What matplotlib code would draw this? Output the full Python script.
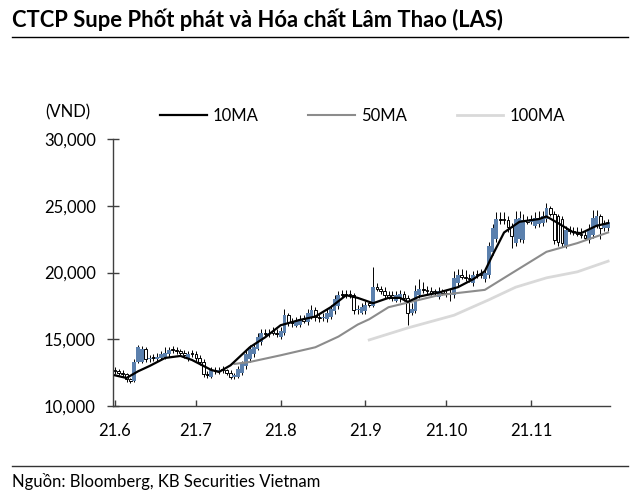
import matplotlib
matplotlib.use("Agg")
import matplotlib.pyplot as plt
from matplotlib.lines import Line2D

plt.rcParams['font.family'] = ['Lato', 'DejaVu Sans']

# daily prices, LAS (VND), trading day index 0 = early June 2021
closes = [
    12600, 12500, 12400, 12000, 11900, 13300, 14400, 14300, 13500, 13600,
    13600, 13700, 13900, 14000, 14200, 14200, 14100, 14000, 13800, 13900,
    13900, 13600, 13300, 12400, 12300, 12700, 12600, 12700, 12700, 12500,
    12200, 12300, 12800, 13200, 13900, 14300, 14400, 15200, 15500, 15400,
    15500, 15500, 15400, 15600, 16800, 16300, 16200, 16400, 16500, 16400,
    17000, 17200, 16700, 16600, 16700, 17000, 17300, 18000, 18300, 18300,
    18300, 18300, 17200, 17300, 17400, 17600, 17600, 18900, 18800, 18600,
    18300, 18200, 18200, 18300, 18400, 18100, 17000, 17300, 18600, 18800,
    18700, 18600, 18500, 18500, 18600, 18500, 18400, 18500, 19600, 19800,
    19700, 19600, 19500, 19800, 19800, 19800, 20000, 22000, 23300, 24000,
    23900, 23900, 23400, 22700, 24000, 24100, 23900, 23800, 24000, 24100,
    24100, 24200, 24800, 24400, 22400, 22300, 22200, 23200, 23100, 23000,
    22900, 22800, 22600, 23200, 24100, 24200, 23300, 23600, 23800]
opens = [
    12700, 12600, 12500, 12400, 12000, 11900, 13300, 13300, 14300, 13500,
    13700, 13500, 13600, 13700, 13900, 14300, 14200, 14100, 14000, 13600,
    14000, 13900, 13600, 13300, 12400, 12200, 12700, 12600, 12800, 12700,
    12500, 12200, 12200, 12500, 13000, 13500, 13900, 14300, 14800, 15500,
    15400, 15600, 15500, 15200, 15500, 16800, 16300, 16000, 16100, 16500,
    16300, 16700, 17200, 16700, 16600, 16500, 16700, 17100, 17500, 18400,
    18400, 18400, 18300, 17200, 17000, 17100, 17700, 17500, 18900, 18800,
    18600, 18300, 18300, 17900, 18000, 18400, 18100, 17000, 17100, 18300,
    18800, 18700, 18600, 18600, 18200, 18600, 18500, 18400, 18300, 19200,
    19800, 19700, 19600, 19200, 19900, 19900, 19500, 19800, 21500, 22500,
    24000, 24000, 23900, 23400, 22200, 22500, 22400, 23900, 23800, 23500,
    23600, 23700, 24000, 24800, 24400, 24200, 24000, 22000, 23200, 23100,
    23000, 22900, 22800, 22400, 22800, 23500, 24200, 23300, 23300]
highs = [
    12900, 12800, 12700, 12500, 12100, 13500, 14600, 14500, 14400, 13800,
    13900, 14000, 14100, 14400, 14400, 14500, 14400, 14300, 14200, 14100,
    14200, 14100, 13800, 13500, 12600, 12900, 12900, 12900, 13000, 12800,
    12700, 12500, 13000, 13400, 14300, 14600, 14700, 15500, 15800, 15800,
    15800, 15900, 15800, 15900, 17300, 17000, 16600, 16700, 16800, 16800,
    17300, 17600, 17400, 17000, 17000, 17300, 17600, 18300, 18600, 18700,
    18700, 18700, 18500, 17600, 17700, 17900, 17900, 20400, 19200, 19000,
    18900, 18600, 18600, 18600, 18700, 18600, 18300, 17700, 19100, 19500,
    19300, 19000, 18900, 18800, 18900, 18800, 18700, 18800, 20100, 20300,
    20300, 20200, 19900, 20100, 20200, 20300, 20300, 22300, 23600, 24500,
    24500, 24500, 24200, 23700, 24600, 24600, 24400, 24200, 24300, 24500,
    24600, 24600, 25200, 25000, 24600, 24400, 24200, 23500, 23500, 23400,
    23400, 23300, 23100, 23600, 24700, 24700, 24400, 23900, 24000]
lows = [
    12400, 12300, 12200, 11800, 11700, 11800, 13200, 13200, 13300, 13300,
    13400, 13400, 13500, 13500, 13700, 14000, 13900, 13800, 13600, 13400,
    13700, 13400, 13100, 12200, 12100, 12100, 12400, 12400, 12500, 12300,
    12000, 12000, 12100, 12300, 12800, 13300, 13700, 14200, 14600, 15200,
    15200, 15300, 15200, 15000, 15300, 16000, 15900, 15900, 15900, 16200,
    16100, 16500, 16400, 16300, 16400, 16300, 16500, 16900, 17300, 18100,
    18100, 18100, 16900, 16900, 16900, 16900, 17400, 17400, 18600, 18400,
    18100, 18000, 17900, 17800, 17800, 17900, 16100, 16800, 17000, 18100,
    18500, 18400, 18300, 18300, 18000, 18300, 18200, 17900, 18100, 19000,
    19500, 19400, 19300, 19000, 19600, 19600, 19300, 19600, 21300, 22300,
    23600, 23600, 23000, 21800, 22000, 22300, 22200, 23600, 23600, 23300,
    23400, 23500, 23800, 24200, 22100, 22000, 21900, 21800, 22900, 22800,
    22700, 22600, 22400, 22200, 22600, 23300, 22500, 23100, 23100]

# moving averages (day index, value)
ma10_days = [0, 3, 6, 9, 13, 17, 20, 25, 27, 30, 35, 39, 43, 48, 52, 56, 60, 63,
             67, 71, 74, 76, 79, 84, 89, 93, 96, 98, 101, 105, 110, 112, 115,
             119, 121, 125, 128]
ma10 = [12300, 12100, 12600, 13000, 13600, 13750, 13450, 12700, 12550, 13050,
        14400, 15150, 16050, 16450, 16700, 17400, 18300, 18100, 17700, 18100,
        18100, 17800, 18200, 18500, 18900, 19500, 20100, 21300, 23000, 23800,
        24000, 24200, 23700, 23000, 22950, 23500, 23700]
ma50_days = [31, 35, 43, 52, 58, 63, 66, 71, 84, 96, 103, 112, 120, 128]
ma50 = [13150, 13300, 13800, 14400, 15200, 16100, 16500, 17400, 18300, 18700,
        19950, 21550, 22200, 23000]
ma100_days = [66, 76, 88, 97, 104, 112, 120, 128]
ma100 = [14950, 15850, 16800, 17950, 18900, 19600, 20050, 20850]

month_pos = [0, 21, 43, 65, 86, 108]
month_labels = ['21.6', '21.7', '21.8', '21.9', '21.10', '21.11']

fig = plt.figure(figsize=(6.4, 4.98), dpi=100)
ax = fig.add_axes([0.1766, 0.1847, 0.7766, 0.5362])

days = list(range(len(closes)))
ax.vlines(days, lows, highs, color='black', lw=0.7, zorder=2)
for d in days:
    lo = min(opens[d], closes[d])
    h = max(abs(closes[d] - opens[d]), 60)
    if closes[d] >= opens[d]:
        ax.bar(d, h, bottom=lo, width=1.0, color='#5b80ad', lw=0, zorder=3)
    else:
        ax.bar(d, h, bottom=lo, width=0.7, color='white', edgecolor='black',
               lw=0.7, zorder=3)

ax.plot(ma100_days, ma100, color='#d9d9d9', lw=2, zorder=4)
ax.plot(ma50_days, ma50, color='#8c8c8c', lw=1.5, zorder=4)
ax.plot(ma10_days, ma10, color='black', lw=1.6, zorder=5)

ax.set_xlim(-0.5, 128.5)
ax.set_ylim(10000, 30000)
ax.set_yticks([10000, 15000, 20000, 25000, 30000])
ax.set_yticklabels(['10,000', '15,000', '20,000', '25,000', '30,000'])
ax.set_xticks(month_pos)
ax.set_xticklabels(month_labels)
for s in ['top', 'right']:
    ax.spines[s].set_visible(False)
for s in ['left', 'bottom']:
    ax.spines[s].set_color('#404040')
    ax.spines[s].set_linewidth(1)
ax.tick_params(axis='y', direction='inout', length=9, width=1, color='#404040',
               labelsize=12, pad=8)
ax.tick_params(axis='x', direction='in', length=4, width=1, color='#404040',
               labelsize=12, pad=12)

handles = [Line2D([], [], color='black', lw=1.6),
           Line2D([], [], color='#8c8c8c', lw=1.5),
           Line2D([], [], color='#d9d9d9', lw=2)]
fig.legend(handles, ['10MA', '50MA', '100MA'], loc='center left',
           bbox_to_anchor=(160 / 640, 1 - 116 / 498), ncol=3, frameon=False,
           fontsize=12, handlelength=2.8, handletextpad=0.35,
           columnspacing=3.0, borderaxespad=0, borderpad=0)

fig.text(68 / 640, 1 - 112 / 498, '(VND)', ha='center', va='center', fontsize=12)
fig.text(12 / 640, 1 - 20 / 498, 'CTCP Supe Phốt phát và Hóa chất Lâm Thao (LAS)',
         ha='left', va='center', fontsize=15.8, fontweight='bold')
fig.add_artist(Line2D([12 / 640, 628 / 640], [1 - 37 / 498, 1 - 37 / 498],
                      color='black', lw=1))
fig.add_artist(Line2D([12 / 640, 628 / 640], [1 - 466 / 498, 1 - 466 / 498],
                      color='#333333', lw=1))
fig.text(12 / 640, 1 - 481 / 498, 'Nguồn: Bloomberg, KB Securities Vietnam',
         ha='left', va='center', fontsize=12)

plt.savefig('out.png', dpi=100)
